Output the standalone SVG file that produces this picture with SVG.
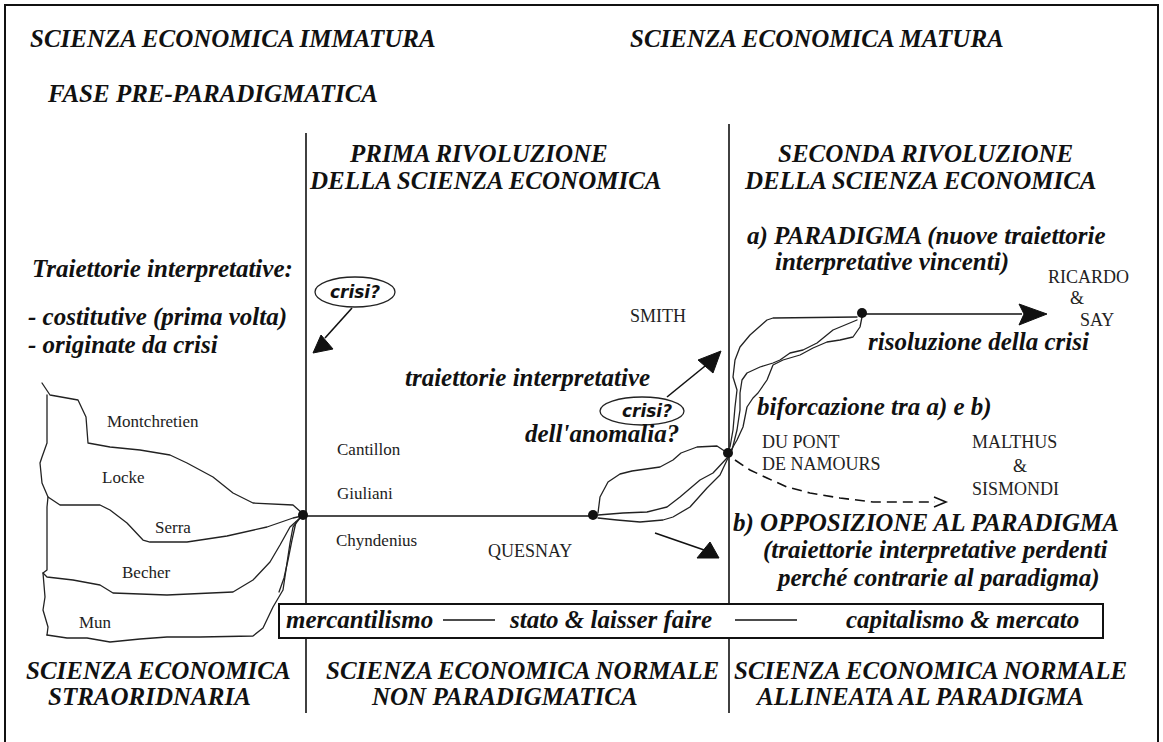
<svg xmlns="http://www.w3.org/2000/svg" width="1163" height="742" viewBox="0 0 1163 742">
<style>
.t{font-family:"Liberation Serif","Times New Roman",serif;font-weight:bold;font-style:italic;font-size:25px;fill:#111}
.n{font-family:"Liberation Serif","Times New Roman",serif;font-size:18px;fill:#222}
.s{font-family:"Liberation Serif","Times New Roman",serif;font-size:17px;fill:#222}
.c{font-family:"DejaVu Sans",sans-serif;font-weight:bold;font-style:italic;font-size:17px;fill:#111}
.ln{stroke:#111;stroke-width:1.6;fill:none}
.w{stroke:#222;stroke-width:1.3;fill:none;stroke-linejoin:round;stroke-linecap:round}
.hd{fill:#111;stroke:#111;stroke-width:1;stroke-linejoin:round}
.dot{fill:#111}
.el{fill:#fff;stroke:#222;stroke-width:1.3}
</style>
<rect width="1163" height="742" fill="#fff"/>
<rect x="5" y="5" width="1153" height="745" fill="none" stroke="#111" stroke-width="2"/>

<g id="connectors">
  <line class="ln" x1="306" y1="133" x2="306" y2="713"/>
  <line class="ln" x1="729" y1="124" x2="729" y2="713"/>
  <line class="ln" x1="305" y1="516" x2="593" y2="516"/>
  <line class="ln" x1="862" y1="314" x2="1022" y2="314"/>
  <polygon class="hd" points="1047,314 1019,304 1024,314 1019,325"/>
  <line class="ln" x1="352" y1="308" x2="325" y2="338"/>
  <polygon class="hd" points="321,335 313,353 333,349"/>
  <line class="ln" x1="667" y1="397" x2="710" y2="362"/>
  <polygon class="hd" points="698,360 721,351 713,373"/>
  <line class="ln" x1="655" y1="533" x2="707" y2="551"/>
  <polygon class="hd" points="697,558 710,542 719,558"/>
  <polyline class="ln" stroke-width="2.2" stroke-dasharray="10 6" points="735,460 750,470 767,478 787,487 810,493 840,498 873,502 900,502 935,502"/>
  <polyline class="ln" stroke-width="2" points="934,497 946,502 934,507"/>
  <!-- left cluster -->
  <polyline class="w" points="42,383 50,395 78,400 86,417 88,443 110,447 140,450 170,455 187,463 213,477 233,493 253,503 293,505 302,513"/>
  <polyline class="w" points="47,395 47,443 42,457 40,463 42,483 48,497 47,507 47,570 43,573 45,597 43,610 48,627 47,635"/>
  <polyline class="w" points="47,635 67,638 87,638 110,642 140,639 167,637 200,637 253,636 263,628 273,607 283,590 287,563 290,543 293,527 300,518"/>
  <polyline class="w" points="48,497 60,505 100,505 110,510 127,523 143,540 150,542 187,542 227,536 267,527 293,518 302,516"/>
  <polyline class="w" points="43,573 47,577 73,580 100,585 113,593 167,595 233,592 253,580 270,562 280,545 290,527 300,518"/>
  <polyline class="w" points="296,522 292,540 288,560 284,578 279,592"/>
  <!-- middle strands -->
  <polyline class="w" points="598,513 600,497 608,482 620,474 632,471 660,467 673,460 681,453 697,447 717,446 726,452"/>
  <polyline class="w" points="598,515 623,513 647,512 667,507 680,497 700,480 713,473 727,458"/>
  <polyline class="w" points="598,518 617,520 640,522 663,520 673,517 690,507 707,488 720,475 728,458"/>
  <!-- right strands -->
  <polyline class="w" points="730,447 733,430 735,407 737,390 733,377 735,360 740,347 750,335 767,320 773,318 857,317"/>
  <polyline class="w" points="732,450 737,430 740,410 740,393 742,380 747,373 760,367 773,363 780,360 790,353 803,350 817,343 833,330 857,320"/>
  <polyline class="w" points="862,317 860,327 853,337 840,340 827,342 813,348 800,355 783,360 773,365 767,380 758,393 753,398 747,407 743,427 737,440 730,452"/>
</g>

<g id="dots">
  <circle class="dot" cx="303" cy="515" r="5"/>
  <circle class="dot" cx="593" cy="515" r="5"/>
  <circle class="dot" cx="728" cy="453" r="5"/>
  <circle class="dot" cx="862" cy="313" r="5"/>
</g>

<g id="headers">
  <text class="t" x="30" y="47">SCIENZA ECONOMICA IMMATURA</text>
  <text class="t" x="630" y="47">SCIENZA ECONOMICA MATURA</text>
  <text class="t" x="48" y="102">FASE PRE-PARADIGMATICA</text>
</g>
<g id="prima">
  <text class="t" x="350" y="162">PRIMA RIVOLUZIONE</text>
  <text class="t" x="310" y="189">DELLA SCIENZA ECONOMICA</text>
</g>
<g id="seconda">
  <text class="t" x="778" y="162">SECONDA RIVOLUZIONE</text>
  <text class="t" x="745" y="189">DELLA SCIENZA ECONOMICA</text>
</g>
<g id="paradigma">
  <text class="t" x="747" y="244">a) PARADIGMA (nuove traiettorie</text>
  <text class="t" x="775" y="270">interpretative vincenti)</text>
</g>
<g id="traiettorie-left">
  <text class="t" x="32" y="277">Traiettorie interpretative:</text>
  <text class="t" x="28" y="325">- costitutive (prima volta)</text>
  <text class="t" x="28" y="353">- originate da crisi</text>
</g>
<g id="crisi1">
  <ellipse class="el" cx="355" cy="292" rx="40" ry="15"/>
  <text class="c" x="355" y="298" text-anchor="middle">crisi?</text>
</g>
<g id="crisi2">
  <ellipse class="el" cx="642" cy="411" rx="42" ry="14"/>
  <text class="c" x="647" y="417" text-anchor="middle">crisi?</text>
</g>
<g id="smith"><text class="n" x="630" y="322">SMITH</text></g>
<g id="ricardo">
  <text class="n" x="1048" y="283">RICARDO</text>
  <text class="n" x="1070" y="304">&amp;</text>
  <text class="n" x="1080" y="326">SAY</text>
</g>
<g id="risoluzione"><text class="t" x="868" y="350">risoluzione della crisi</text></g>
<g id="traiettorie-mid">
  <text class="t" x="405" y="386">traiettorie interpretative</text>
  <text class="t" x="525" y="442">dell'anomalia?</text>
</g>
<g id="biforcazione"><text class="t" x="757" y="415">biforcazione tra a) e b)</text></g>
<g id="dupont">
  <text class="n" x="762" y="448">DU PONT</text>
  <text class="n" x="762" y="470">DE NAMOURS</text>
</g>
<g id="malthus">
  <text class="n" x="972" y="448">MALTHUS</text>
  <text class="n" x="1013" y="472">&amp;</text>
  <text class="n" x="972" y="495">SISMONDI</text>
</g>
<g id="mid-names">
  <text class="s" x="337" y="455">Cantillon</text>
  <text class="s" x="337" y="499">Giuliani</text>
  <text class="s" x="336" y="546">Chyndenius</text>
  <text class="n" x="488" y="557">QUESNAY</text>
</g>
<g id="left-names">
  <text class="s" x="107" y="427">Montchretien</text>
  <text class="s" x="102" y="483">Locke</text>
  <text class="s" x="155" y="533">Serra</text>
  <text class="s" x="122" y="578">Becher</text>
  <text class="s" x="79" y="628">Mun</text>
</g>
<g id="opposizione">
  <text class="t" x="733" y="531">b) OPPOSIZIONE AL PARADIGMA</text>
  <text class="t" x="763" y="558">(traiettorie interpretative perdenti</text>
  <text class="t" x="778" y="586">perché contrarie al paradigma)</text>
</g>
<g id="box">
  <rect x="279" y="604" width="824" height="34" fill="#fff" stroke="#111" stroke-width="2"/>
  <text class="t" x="286" y="628">mercantilismo</text>
  <line class="ln" x1="443" y1="620" x2="495" y2="620"/>
  <text class="t" x="510" y="628">stato &amp; laisser faire</text>
  <line class="ln" x1="735" y1="620" x2="797" y2="620"/>
  <text class="t" x="846" y="628">capitalismo &amp; mercato</text>
</g>
<g id="bottom">
  <text class="t" x="26" y="679">SCIENZA ECONOMICA</text>
  <text class="t" x="48" y="705">STRAORIDNARIA</text>
  <text class="t" x="326" y="679">SCIENZA ECONOMICA NORMALE</text>
  <text class="t" x="372" y="705">NON PARADIGMATICA</text>
  <text class="t" x="734" y="679">SCIENZA ECONOMICA NORMALE</text>
  <text class="t" x="757" y="705">ALLINEATA AL PARADIGMA</text>
</g>
</svg>
